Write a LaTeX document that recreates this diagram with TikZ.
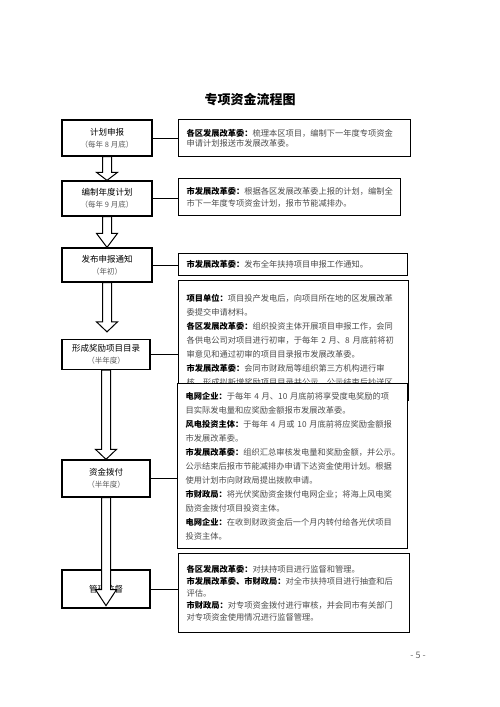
\documentclass[tikz,border=0pt]{standalone}
\usepackage{fontspec}
\setmainfont{Noto Sans CJK SC}
\usetikzlibrary{calc}

\tikzset{
  stage/.style={draw,line width=1.3pt,align=center,inner sep=2pt,font=\fontsize{8.5}{12}\selectfont},
  note/.style={draw,line width=1.3pt,fill=white,anchor=north west,align=left,inner xsep=8pt,inner ysep=3pt,text=black!70},
  link/.style={line width=0.8pt},
  blockarrow/.style={draw,line width=1pt,fill=white,line join=miter}
}
\newcommand\notelabel[1]{\textbf{\color{black}#1}}
\newcommand\stagesub[1]{{\color{black!65}\fontsize{7.5}{12}\selectfont #1}}
% block arrow between two stages, #1 = head length
\newcommand\flowarrow[3][10pt]{%
  \path[blockarrow] let \p1=(#2), \p2=(#3) in
    (\x1-4.5pt,\y1) -- (\x1+4.5pt,\y1) -- (\x1+4.5pt,\y2+#1) -- (\x1+10.5pt,\y2+#1)
    -- (\x1,\y2) -- (\x1-10.5pt,\y2+#1) -- (\x1-4.5pt,\y2+#1) -- cycle;}

\begin{document}
\begin{tikzpicture}[x=1pt,y=-1pt]
\useasboundingbox (0,0) rectangle (500,707);

\node[font=\bfseries\fontsize{13}{13}\selectfont] (title) at (250,100) {专项资金流程图};

% stages
\node[stage,minimum width=90,minimum height=36] (s1) at (107,138) {计划申报\\\stagesub{（每年 8 月底）}};
\node[stage,minimum width=90,minimum height=35] (s2) at (107,198.5) {编制年度计划\\\stagesub{（每年 9 月底）}};
\node[stage,minimum width=90,minimum height=34] (s3) at (107,265) {发布申报通知\\\stagesub{（年初）}};
\node[stage,minimum width=88,minimum height=30] (s4) at (106,354.5) {形成奖励项目目录\\\stagesub{（半年度）}};
\node[stage,minimum width=88,minimum height=37] (s5) at (106,478.5) {资金拨付\\\stagesub{（半年度）}};
\node[stage,minimum width=88,minimum height=38] (s6) at (106,589) {管理监督};

% notes
\node[note,text width=216,minimum width=232,minimum height=37,font=\fontsize{8.25}{10.7}\selectfont] (n1) at (178,119)
  {\notelabel{各区发展改革委：}梳理本区项目，编制下一年度专项资金\\申请计划报送市发展改革委。};
\node[note,text width=206,minimum width=222,minimum height=37,font=\fontsize{8.25}{12}\selectfont] (n2) at (178,178)
  {\notelabel{市发展改革委：}根据各区发展改革委上报的计划，编制全\\市下一年度专项资金计划，报市节能减排办。};
\node[note,text width=213,minimum width=229,minimum height=22,font=\fontsize{8.25}{12}\selectfont] (n3) at (178,253)
  {\notelabel{市发展改革委：}发布全年扶持项目申报工作通知。};
\node[note,text width=214,minimum width=230,minimum height=120,font=\fontsize{8.25}{14}\selectfont] (n4) at (178,280)
  {\notelabel{项目单位：}项目投产发电后，向项目所在地的区发展改革\\委提交申请材料。\\
   \notelabel{各区发展改革委：}组织投资主体开展项目申报工作，会同\\各供电公司对项目进行初审，于每年 2 月、8 月底前将初\\审意见和通过初审的项目目录报市发展改革委。\\
   \notelabel{市发展改革委：}会同市财政局等组织第三方机构进行审\\核，形成拟新增奖励项目目录并公示，公示结束后抄送区};
\node[note,text width=214,minimum width=230,minimum height=165,font=\fontsize{8.25}{14}\selectfont] (n5) at (177,383)
  {\notelabel{电网企业：}于每年 4 月、10 月底前将享受度电奖励的项\\目实际发电量和应奖励金额报市发展改革委。\\
   \notelabel{风电投资主体：}于每年 4 月或 10 月底前将应奖励金额报\\市发展改革委。\\
   \notelabel{市发展改革委：}组织汇总审核发电量和奖励金额，并公示。\\公示结束后报市节能减排办申请下达资金使用计划。根据\\使用计划市向财政局提出拨款申请。\\
   \notelabel{市财政局：}将光伏奖励资金拨付电网企业；将海上风电奖\\励资金拨付项目投资主体。\\
   \notelabel{电网企业：}在收到财政资金后一个月内转付给各光伏项目\\投资主体。};
\node[note,text width=215,minimum width=231,minimum height=79,font=\fontsize{8.25}{12}\selectfont] (n6) at (178,553)
  {\notelabel{各区发展改革委：}对扶持项目进行监督和管理。\\
   \notelabel{市发展改革委、市财政局：}对全市扶持项目进行抽查和后\\评估。\\
   \notelabel{市财政局：}对专项资金拨付进行审核，并会同市有关部门\\对专项资金使用情况进行监督管理。};

\node[text=black!60,font=\fontsize{9}{9}\selectfont] (page) at (418,655) {- 5 -};

\foreach \u/\v in {s1/n1,s2/n2,s3/n3,s4/n4,s5/n5,s6/n6}
  \draw[link] (\u.east) -- (\u.east -| \v.west);

\flowarrow[8pt]{s1.south}{s2.north}
\flowarrow[14pt]{s2.south}{s3.north}
\flowarrow{s3.south}{[yshift=7pt]s4.north}
\flowarrow{s4.south}{s5.north}
\flowarrow[16pt]{s5.south}{[yshift=3pt]s6.south}
\end{tikzpicture}
\end{document}
